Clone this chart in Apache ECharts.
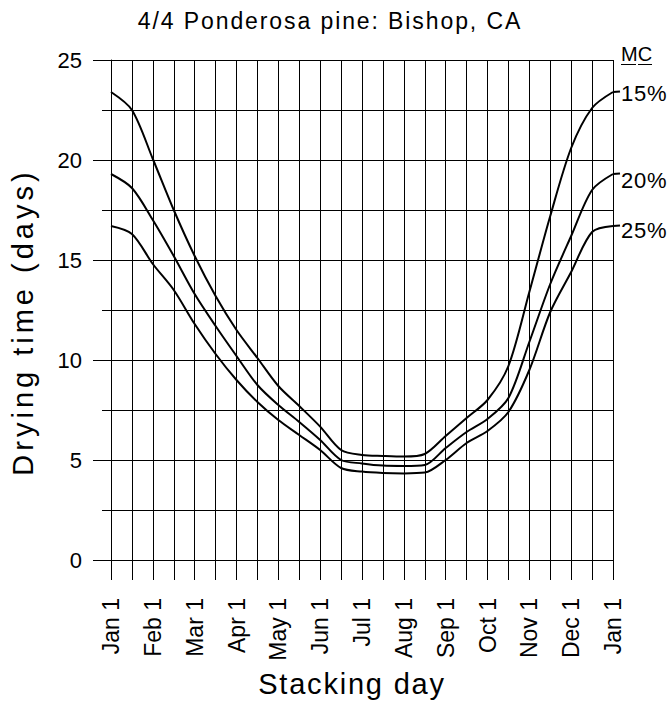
<!DOCTYPE html>
<html>
<head>
<meta charset="utf-8">
<script src="https://cdn.jsdelivr.net/npm/echarts@6/dist/echarts.min.js"></script>
<style>
  html, body { margin: 0; padding: 0; background: #fff; }
  #chart { width: 670px; height: 709px; }
</style>
</head>
<body>
<div id="chart"></div>
<script>
// Half-month positions along the stacking-day axis (0 = Jan 1, 24 = next Jan 1)
const halfMonth = [0,1,2,3,4,5,6,7,8,9,10,11,12,13,14,15,16,17,18,19,20,21,22,23,24];
const tickLabels = ['Jan 1','Feb 1','Mar 1','Apr 1','May 1','Jun 1','Jul 1','Aug 1','Sep 1','Oct 1','Nov 1','Dec 1','Jan 1'];
const seriesNames = ['15%', '20%', '25%'];
// Drying time (days)
const mc15 = [23.4,22.5,20.05,17.5,15.2,13.2,11.5,10.1,8.7,7.7,6.67,5.5,5.25,5.2,5.17,5.3,6.2,7.1,8.0,9.7,13.4,17.2,20.6,22.6,23.4];
const mc20 = [19.3,18.6,17.0,15.2,13.3,11.7,10.2,8.75,7.75,6.9,6.0,5.0,4.83,4.72,4.7,4.75,5.6,6.4,7.05,8.1,10.9,13.8,16.2,18.5,19.3];
const mc25 = [16.7,16.3,14.8,13.5,11.8,10.3,9.0,7.9,7.0,6.25,5.5,4.6,4.42,4.35,4.33,4.37,5.0,5.85,6.45,7.4,9.5,12.4,14.4,16.4,16.7];

const FONT = 'Liberation Sans, Arial, Helvetica, sans-serif';
const chart = echarts.init(document.getElementById('chart'), null, { renderer: 'svg' });

function pairs(arr) { return halfMonth.map((x, i) => [x, arr[i]]); }
const allSeries = [mc15, mc20, mc25];
const labelOffsets = [1.5, 6, 4];

const lineSeries = allSeries.map((arr, k) => ({
  name: seriesNames[k],
  type: 'line',
  data: pairs(arr),
  smooth: 0.3,
  showSymbol: false,
  lineStyle: { color: '#000', width: 2 },
  z: 5,
  endLabel: {
    show: true, formatter: seriesNames[k], distance: 8, offset: [0, labelOffsets[k]],
    fontSize: 22, fontFamily: FONT, color: '#000'
  }
}));

const leaderSeries = {
  type: 'custom',
  data: allSeries.map(arr => [halfMonth[halfMonth.length - 1], arr[arr.length - 1]]),
  renderItem: function (params, api) {
    const p = api.coord([api.value(0), api.value(1)]);
    return { type: 'line', shape: { x1: p[0], y1: p[1], x2: p[0] + 7, y2: p[1] - 0.5 },
             style: { stroke: '#000', lineWidth: 2 } };
  },
  z: 5, silent: true
};

chart.setOption({
  animation: false,
  backgroundColor: '#fff',
  grid: { left: 111, top: 60, width: 502, height: 500 },
  xAxis: {
    type: 'value', min: 0, max: 24, interval: 1,
    axisLine: { show: true, lineStyle: { color: '#000', width: 1 } },
    axisTick: { show: true, length: 20, lineStyle: { color: '#000', width: 1 } },
    axisLabel: {
      rotate: 90, margin: 38, fontSize: 23, fontFamily: FONT, color: '#000',
      formatter: function (v) { return (v % 2 === 0) ? tickLabels[v / 2] : ''; }
    },
    splitLine: { show: true, lineStyle: { color: '#000', width: 1 } }
  },
  yAxis: {
    type: 'value', min: 0, max: 25, interval: 5,
    axisLine: { show: true, lineStyle: { color: '#000', width: 1 } },
    axisTick: { show: true, length: 18, lineStyle: { color: '#000', width: 1 } },
    minorTick: { show: true, splitNumber: 2, length: 9, lineStyle: { color: '#000', width: 1 } },
    splitLine: { show: true, lineStyle: { color: '#000', width: 1 } },
    minorSplitLine: { show: true, lineStyle: { color: '#000', width: 1 } },
    axisLabel: { margin: 29, fontSize: 22, fontFamily: FONT, color: '#000' }
  },
  graphic: [
    { type: 'text', x: 330, y: 21, style: { text: '4/4 Ponderosa pine: Bishop, CA', fontSize: 23, fontFamily: FONT, fill: '#000', textAlign: 'center', textVerticalAlign: 'middle' } },
    { type: 'text', x: 23, y: 322, rotation: Math.PI / 2, style: { text: 'Drying time (days)', fontSize: 29, fontFamily: FONT, fill: '#000', textAlign: 'center', textVerticalAlign: 'middle' } },
    { type: 'text', x: 352, y: 684, style: { text: 'Stacking day', fontSize: 29, fontFamily: FONT, fill: '#000', textAlign: 'center', textVerticalAlign: 'middle' } },
    { type: 'text', x: 621, y: 54, style: { text: 'MC', fontSize: 20, fontFamily: FONT, fill: '#000', textAlign: 'left', textVerticalAlign: 'middle' } },
    { type: 'line', shape: { x1: 621, y1: 64.5, x2: 636, y2: 64.5 }, style: { stroke: '#000', lineWidth: 1 } },
    { type: 'line', shape: { x1: 638, y1: 64.5, x2: 652, y2: 64.5 }, style: { stroke: '#000', lineWidth: 1 } }
  ],
  series: lineSeries.concat([leaderSeries])
});

const spacing = {
  '4/4 Ponderosa pine: Bishop, CA': '1.9px',
  'Drying time (days)': '4px',
  'Stacking day': '1.8px',
  '15%': '0.8px', '20%': '0.8px', '25%': '0.8px'
};
function applySpacing() {
  document.querySelectorAll('#chart text').forEach(function (t) {
    const s = spacing[t.textContent];
    if (s) t.style.letterSpacing = s;
  });
}
chart.on('finished', applySpacing);
applySpacing();
setTimeout(applySpacing, 0);
</script>
</body>
</html>
